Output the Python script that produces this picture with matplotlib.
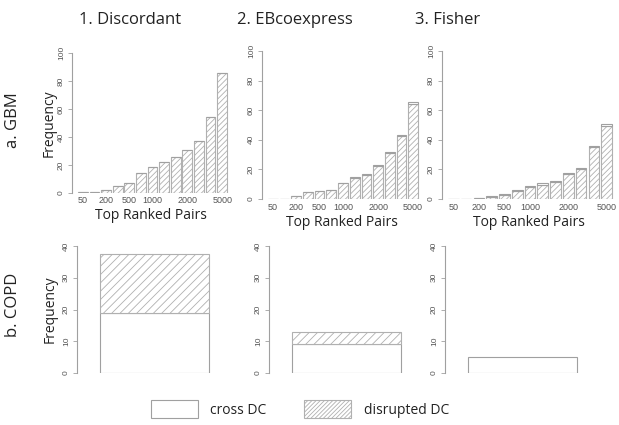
import matplotlib
matplotlib.use("Agg")
import matplotlib.pyplot as plt
from matplotlib.patches import Patch
import numpy as np

plt.rcParams['font.family'] = ['Open Sans', 'DejaVu Sans']
plt.rcParams['hatch.linewidth'] = 0.6

# ---------------- data ----------------
methods = ["1. Discordant", "2. EBcoexpress", "3. Fisher"]
datasets = ["a. GBM", "b. COPD"]
top_pairs = [50, 100, 200, 300, 500, 750, 1000, 1250, 1500, 2000, 3000, 4000, 5000]
shown_labels = ["50", "", "200", "", "500", "", "1000", "", "", "2000", "", "", "5000"]

gbm_disrupted_discordant = [0.4, 1, 2.4, 5, 7, 14, 18.5, 22, 26, 31, 37, 54, 85.5]
gbm_cross_discordant     = [0, 0, 0, 0, 0, 0, 0, 0, 0, 0, 0, 0, 0]
gbm_disrupted_ebco = [0.3, 0.3, 2, 4.5, 5.5, 6, 10.5, 14, 16.5, 22.5, 31, 42.5, 64.5]
gbm_cross_ebco     = [0, 0, 0, 0, 0, 0, 0.5, 1, 0.5, 0.5, 0.5, 0.5, 1]
gbm_disrupted_fisher = [0.2, 0.2, 0.4, 1.5, 3, 5.5, 8, 9.5, 11.5, 17, 20, 35, 49]
gbm_cross_fisher     = [0, 0, 0.1, 0.5, 0.5, 0.5, 1, 1, 0.5, 0.5, 1, 0.5, 2]

copd_cross = [19, 9, 5]
copd_disrupted = [18.5, 4, 0]

gbm_yticks = [0, 20, 40, 60, 80, 100]
copd_yticks = [0, 10, 20, 30, 40]

# ---------------- layout helpers ----------------
W, H = 619, 425
fig = plt.figure(figsize=(W / 100, H / 100), dpi=100)

EDGE = "#a0a0a0"
HATCHC = "#b0b0b0"
TXT = "#222222"
TICKC = "#555555"


def make_axes(spine_x, bar_l, bar_r, y0_px, ytop_px, ytop_val, n_bars, width_frac):
    pitch = (bar_r - bar_l) / ((n_bars - 1) + width_frac)
    x_left_data = -width_frac / 2 - (bar_l - spine_x) / pitch
    right_px = bar_r + 3
    x_right_data = (n_bars - 1) + width_frac / 2 + 3 / pitch
    ax = fig.add_axes([spine_x / W, 1 - y0_px / H,
                       (right_px - spine_x) / W, (y0_px - ytop_px) / H])
    ax.set_xlim(x_left_data, x_right_data)
    ax.set_ylim(0, ytop_val)
    for s in ["top", "right", "bottom"]:
        ax.spines[s].set_visible(False)
    ax.spines["left"].set_color(EDGE)
    ax.spines["left"].set_linewidth(0.8)
    ax.patch.set_alpha(0)
    return ax


def style_y(ax, ticks):
    ax.set_yticks(ticks)
    ax.set_yticklabels([str(t) for t in ticks], rotation=90, va="center",
                       fontsize=6, color=TICKC, family="Liberation Sans")
    ax.tick_params(axis="y", length=3, width=0.6, color=EDGE, pad=2)
    ax.set_ylim(0, ticks[-1])
    ax.spines["left"].set_bounds(ticks[0], ticks[-1])


# ---------------- GBM row ----------------
gbm_sets = [
    (gbm_disrupted_discordant, gbm_cross_discordant, (72, 78, 227, 193, 53)),
    (gbm_disrupted_ebco, gbm_cross_ebco, (262, 268, 418, 199, 51)),
    (gbm_disrupted_fisher, gbm_cross_fisher, (442, 448, 612, 199, 51)),
]
wf = 1 / 1.2
for k, (dis, cro, (sx, bl, br, y0, yt)) in enumerate(gbm_sets):
    n = len(top_pairs)
    ax = make_axes(sx, bl, br, y0, yt, 100, n, wf)
    x = np.arange(n)
    ax.bar(x, dis, width=wf, facecolor="white", edgecolor=HATCHC,
           hatch="//////", linewidth=0.8)
    ax.bar(x, cro, width=wf, bottom=dis, facecolor="white", edgecolor=EDGE,
           linewidth=0.8)
    style_y(ax, gbm_yticks)
    ax.set_xticks(x)
    ax.set_xticklabels(shown_labels, fontsize=6.5, color=TICKC, family="Liberation Sans")
    ax.tick_params(axis="x", length=0, pad=2 if k == 0 else 3)
    ax.set_xlabel("Top Ranked Pairs", fontsize=10, color=TXT, labelpad=2)
    if k == 0:
        ax.set_ylabel("Frequency", fontsize=10, color=TXT, labelpad=1)

# ---------------- COPD row ----------------
copd_pos = [(77, 100, 209), (269, 292, 401), (445, 468, 577)]
for k, (sx, bl, br) in enumerate(copd_pos):
    ax = make_axes(sx, bl, br, 373, 246, 40, 1, 1.0)
    ax.bar([0], [copd_cross[k]], width=1.0, facecolor="white", edgecolor=EDGE,
           linewidth=0.8)
    if copd_disrupted[k] > 0:
        ax.bar([0], [copd_disrupted[k]], width=1.0, bottom=[copd_cross[k]],
               facecolor="white", edgecolor=HATCHC, hatch="////", linewidth=0.8)
    style_y(ax, copd_yticks)
    ax.set_xticks([])
    if k == 0:
        ax.set_ylabel("Frequency", fontsize=10, color=TXT, labelpad=4)

# ---------------- titles ----------------
title_x = [130, 295, 448]
for t, xp in zip(methods, title_x):
    fig.text(xp / W, 1 - 20 / H, t, ha="center", va="center", fontsize=12, color=TXT)

row_y = [120, 305]
for t, yp in zip(datasets, row_y):
    fig.text(13 / W, 1 - yp / H, t, ha="center", va="center", rotation=90,
             fontsize=12, color=TXT)

# ---------------- legend ----------------
handles = [Patch(facecolor="white", edgecolor=EDGE, linewidth=0.8, label="cross DC"),
           Patch(facecolor="white", edgecolor=HATCHC, hatch="////////", linewidth=0.8,
                 label="disrupted DC")]
fig.legend(handles=handles, loc="center", bbox_to_anchor=(300 / W, 1 - 409 / H),
           ncol=2, frameon=False, fontsize=10, handlelength=3.4, handleheight=1.65,
           handletextpad=0.9, columnspacing=2.7, labelcolor=TXT)

fig.savefig("out.png", dpi=100)
